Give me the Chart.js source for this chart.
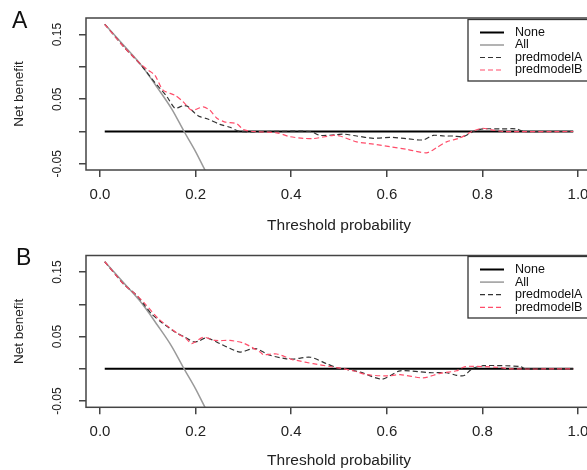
<!DOCTYPE html>
<html><head><meta charset="utf-8">
<script src="https://cdn.jsdelivr.net/npm/chart.js@4.4.1/dist/chart.umd.min.js"></script>
<style>
html,body{margin:0;padding:0;background:#fff;overflow:hidden;width:587px;height:470px;}
.panel{position:absolute;left:0;width:600px;height:235px;}
canvas{display:block;}
</style></head><body>
<div class="panel" style="top:0"><canvas id="cA" width="600" height="235"></canvas></div>
<div class="panel" style="top:235px"><canvas id="cB" width="600" height="235"></canvas></div>
<script>
// ---- data ----
const xTickValues = [0, 0.2, 0.4, 0.6, 0.8, 1.0];
const xTickLabels = ['0.0', '0.2', '0.4', '0.6', '0.8', '1.0'];
const yTickValues = [-0.05, 0, 0.05, 0.10, 0.15];
const yTickLabels = ['-0.05', '', '0.05', '', '0.15'];
const seriesNames = ['None', 'All', 'predmodelA', 'predmodelB'];
const panelLetters = ['A', 'B'];

const noneX = [0.01, 0.99];
const noneY = [0, 0];

const allX = [0.01, 0.05, 0.087, 0.12, 0.15, 0.176, 0.20, 0.22, 0.25];
const allY = [0.166, 0.133, 0.102, 0.068, 0.035, 0.0, -0.031, -0.060, -0.100];

// Panel A
const aModelAX = [0.01, 0.05, 0.087, 0.108, 0.14, 0.157, 0.174, 0.183, 0.199, 0.209, 0.227, 0.251, 0.272, 0.293, 0.35, 0.44, 0.46, 0.495, 0.509, 0.537, 0.572, 0.607, 0.64, 0.676, 0.697, 0.72, 0.739, 0.76, 0.781, 0.802, 0.84, 0.872, 0.886, 0.93, 0.99];
const aModelAY = [0.166, 0.131, 0.102, 0.082, 0.054, 0.036, 0.040, 0.039, 0.028, 0.023, 0.019, 0.011, 0.0065, 0.0, 0.0, 0.0, -0.006, -0.005, -0.004, -0.007, -0.0105, -0.009, -0.011, -0.013, -0.006, -0.007, -0.007, -0.008, 0.0, 0.004, 0.004, 0.004, 0.0, 0.0, 0.0];
const aModelBX = [0.01, 0.05, 0.087, 0.101, 0.115, 0.132, 0.157, 0.174, 0.192, 0.216, 0.23, 0.244, 0.26, 0.286, 0.30, 0.32, 0.37, 0.397, 0.425, 0.446, 0.488, 0.502, 0.537, 0.572, 0.607, 0.642, 0.683, 0.704, 0.725, 0.753, 0.778, 0.80, 0.816, 0.843, 0.99];
const aModelBY = [0.166, 0.131, 0.103, 0.095, 0.087, 0.064, 0.056, 0.046, 0.033, 0.038, 0.033, 0.021, 0.015, 0.012, 0.003, 0.0, -0.002, -0.008, -0.0105, -0.011, -0.006, -0.007, -0.016, -0.0195, -0.0235, -0.0276, -0.033, -0.025, -0.016, -0.010, 0.0, 0.005, 0.003, 0.0, 0.0];

// Panel B
const bModelAX = [0.01, 0.05, 0.077, 0.094, 0.108, 0.129, 0.157, 0.178, 0.195, 0.206, 0.223, 0.251, 0.265, 0.293, 0.317, 0.328, 0.356, 0.39, 0.404, 0.44, 0.474, 0.495, 0.509, 0.544, 0.59, 0.628, 0.69, 0.725, 0.746, 0.762, 0.778, 0.802, 0.879, 0.89, 0.99];
const bModelAY = [0.166, 0.131, 0.114, 0.098, 0.085, 0.072, 0.057, 0.049, 0.042, 0.043, 0.048, 0.039, 0.034, 0.026, 0.031, 0.031, 0.021, 0.0155, 0.015, 0.018, 0.008, 0.002, 0.0, -0.005, -0.016, -0.003, -0.006, -0.006, -0.010, -0.0104, 0.0, 0.005, 0.0036, 0.0, 0.0];
const bModelBX = [0.01, 0.05, 0.077, 0.094, 0.122, 0.14, 0.164, 0.18, 0.192, 0.216, 0.241, 0.272, 0.30, 0.335, 0.342, 0.37, 0.404, 0.412, 0.446, 0.481, 0.502, 0.53, 0.558, 0.6, 0.628, 0.676, 0.711, 0.746, 0.76, 0.771, 0.83, 0.86, 0.99];
const bModelBY = [0.166, 0.131, 0.114, 0.101, 0.078, 0.067, 0.054, 0.047, 0.039, 0.049, 0.044, 0.044, 0.040, 0.026, 0.022, 0.023, 0.014, 0.013, 0.008, 0.0036, 0.001, -0.003, -0.009, -0.011, -0.009, -0.014, -0.007, -0.003, 0.0025, 0.004, 0.0025, 0.0, 0.0];

// ---- rendering ----
const FONT = "'Liberation Sans', Arial, Helvetica, sans-serif";
const pts = (xs, ys) => xs.map((x, i) => ({x: x, y: ys[i]}));

const styles = [
  {color: '#000000', width: 2, dash: []},
  {color: '#9a9a9a', width: 1.5, dash: []},
  {color: '#333333', width: 1.2, dash: [5, 3]},
  {color: '#ff4d6a', width: 1.2, dash: [5, 3]}
];

function makeChart(id, letter, mA, mB, geo) {
  const series = [pts(noneX, noneY), pts(allX, allY), mA, mB];
  const datasets = series.map((d, i) => ({
    label: seriesNames[i],
    data: d,
    borderColor: styles[i].color,
    borderWidth: styles[i].width,
    borderDash: styles[i].dash,
    pointRadius: 0,
    fill: false,
    tension: i >= 2 ? 0.25 : 0,
    cubicInterpolationMode: i === 1 ? 'monotone' : 'default',
    order: 3 - i
  }));

  const deco = {
    id: 'deco',
    afterDraw(chart) {
      const ctx = chart.ctx, a = chart.chartArea;
      ctx.save();
      // plot box
      ctx.strokeStyle = '#444';
      ctx.lineWidth = 1.5;
      ctx.setLineDash([]);
      ctx.strokeRect(a.left, a.top, a.right - a.left, a.bottom - a.top);
      // panel letter
      ctx.fillStyle = '#111';
      ctx.font = '23px ' + FONT;
      ctx.textAlign = 'left';
      ctx.textBaseline = 'alphabetic';
      ctx.fillText(letter, geo.letterX, geo.letterY);
      // legend
      const L = geo.legend;
      ctx.fillStyle = '#fff';
      ctx.fillRect(L.left, L.top, 200, L.bottom - L.top);
      ctx.strokeStyle = '#333';
      ctx.lineWidth = 1.3;
      ctx.strokeRect(L.left, L.top, 200, L.bottom - L.top);
      ctx.font = '12.5px ' + FONT;
      ctx.textBaseline = 'middle';
      chart.data.datasets.forEach((ds, i) => {
        const y = L.row0 + i * L.step;
        ctx.strokeStyle = ds.borderColor;
        ctx.lineWidth = ds.borderWidth;
        ctx.setLineDash(ds.borderDash);
        ctx.beginPath();
        ctx.moveTo(480, y);
        ctx.lineTo(504, y);
        ctx.stroke();
        ctx.setLineDash([]);
        ctx.fillStyle = '#111';
        ctx.fillText(ds.label, 515, y);
      });
      ctx.restore();
    }
  };

  return new Chart(document.getElementById(id), {
    type: 'line',
    data: {datasets: datasets},
    plugins: [deco],
    options: {
      responsive: false,
      animation: false,
      devicePixelRatio: 1,
      layout: {padding: {left: 0, right: 8, top: geo.top, bottom: 0}},
      plugins: {legend: {display: false}, tooltip: {enabled: false}},
      scales: {
        x: {
          type: 'linear',
          min: -0.0292, max: 1.0292,
          afterBuildTicks: s => { s.ticks = xTickValues.map(v => ({value: v})); },
          afterFit: s => { s.height = 235 - geo.bottom; },
          border: {display: false},
          grid: {display: true, drawOnChartArea: false, drawTicks: true, tickLength: 7, color: '#444', tickColor: '#444', lineWidth: 1.5},
          ticks: {
            autoSkip: false, maxRotation: 0, padding: 9,
            color: '#222', font: {family: FONT, size: 15},
            callback: (v, i) => xTickLabels[i]
          },
          title: {display: true, text: 'Threshold probability', color: '#222', font: {family: FONT, size: 15.5}, padding: {top: 0, bottom: geo.titlePad}}
        },
        y: {
          type: 'linear',
          min: -0.0596, max: 0.1757,
          afterBuildTicks: s => { s.ticks = yTickValues.map(v => ({value: v})); },
          afterFit: s => { s.width = 86; },
          border: {display: false},
          grid: {display: true, drawOnChartArea: false, drawTicks: true, tickLength: 7, color: '#444', tickColor: '#444', lineWidth: 1.5},
          ticks: {
            autoSkip: false, minRotation: 90, maxRotation: 90, crossAlign: 'center', padding: 8,
            color: '#222', font: {family: FONT, size: 12},
            callback: (v, i) => yTickLabels[i]
          },
          title: {display: true, text: 'Net benefit', color: '#222', font: {family: FONT, size: 13.5}, padding: {top: 11, bottom: 0}}
        }
      }
    }
  });
}

makeChart('cA', panelLetters[0], pts(aModelAX, aModelAY), pts(aModelBX, aModelBY),
  {top: 18, bottom: 170, titlePad: 0, letterX: 12, letterY: 28,
   legend: {left: 468, top: 19.5, bottom: 81, row0: 32.5, step: 12.5}});
makeChart('cB', panelLetters[1], pts(bModelAX, bModelAY), pts(bModelBX, bModelBY),
  {top: 20.5, bottom: 172.3, titlePad: 0, letterX: 16, letterY: 30,
   legend: {left: 468, top: 21.5, bottom: 83, row0: 34.5, step: 12.6}});
</script>
</body></html>
